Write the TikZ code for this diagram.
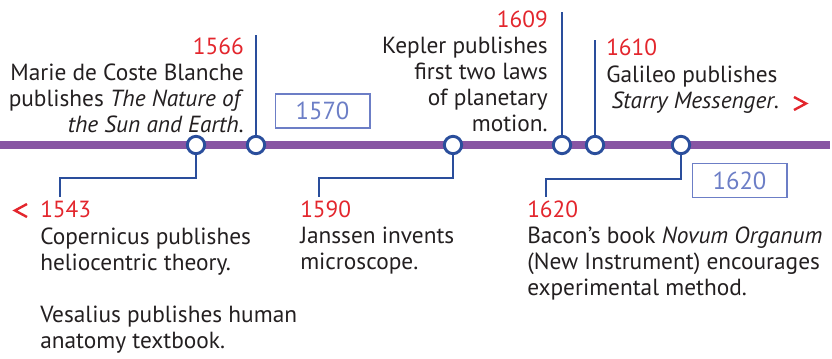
\documentclass[tikz,border=0pt]{standalone}
\usepackage{fontspec}
\setmainfont{PT Sans}
\definecolor{tlpurple}{HTML}{8855A3}
\definecolor{tlblue}{HTML}{2A4E9C}
\definecolor{tlred}{HTML}{E3262D}
\definecolor{tlbox}{HTML}{6C7EC6}
\definecolor{tltext}{HTML}{231F20}
\tikzset{
  yr/.style={inner sep=0pt,text=tlred,font=\fontsize{17.5}{19.5}\selectfont},
  desc/.style={inner sep=0pt,text=tltext,font=\fontsize{17.5}{19.5}\selectfont},
  dot/.style={circle,draw=tlblue,line width=2.2pt,fill=white,minimum size=13pt,inner sep=0pt},
  conn/.style={draw=tlblue,line width=2.2pt},
  yearbox/.style={draw=tlbox,line width=1pt,text=tlbox,minimum width=71pt,minimum height=25.5pt,inner sep=0pt,font=\fontsize{18.5}{22}\selectfont},
  chev/.style={draw=tlred,line width=1.8pt}
}
\begin{document}
\begin{tikzpicture}[x=0.75pt,y=-0.75pt]
\useasboundingbox (0,0) rectangle (832,358);
% timeline
\draw[tlpurple,line width=5.5pt] (0,145) -- (830,145);
% dots
\node[dot] (d1543) at (196,145) {};
\node[dot] (d1566) at (256,145) {};
\node[dot] (d1590) at (453,145) {};
\node[dot] (d1609) at (562,145) {};
\node[dot] (d1610) at (595,145) {};
\node[dot] (d1620) at (681,145) {};
% connector ends
\coordinate (t1566) at (256,35);
\coordinate (t1609) at (562,12);
\coordinate (t1610) at (595,40);
\coordinate (b1543) at (60,197);
\coordinate (b1590) at (319,197);
\coordinate (b1620) at (546,197);
\draw[conn] (t1566) -- (d1566);
\draw[conn] (t1609) -- (d1609);
\draw[conn] (t1610) -- (d1610);
\draw[conn] (d1543) |- (60,178) -- (b1543);
\draw[conn] (d1590) |- (319,178) -- (b1590);
\draw[conn] (d1620) |- (546,179) -- (b1620);
% boxes
\node[yearbox] (box1570) at (322.5,111) {1570};
\node[yearbox] (box1620) at (739.5,180.5) {1620};
% top texts (multi-line nodes anchored at the baseline of their last line)
\node[yr,anchor=base east] (y1566) at (244,54) {1566};
\node[desc,anchor=base east,align=right] (t1) at (244,132) {Marie de Coste Blanche\\publishes \textit{The Nature of}\\\textit{the Sun and Earth}.};
\node[yr,anchor=base east] (y1609) at (548,27) {1609};
\node[desc,anchor=base east,align=right] (t2) at (548,131) {Kepler publishes\\first two laws\\of planetary\\motion.};
\node[yr,anchor=base west] (y1610) at (606,55) {1610};
\node[desc,anchor=base west,align=left] (t3) at (606,108) {Galileo publishes\\\hspace*{4pt}\textit{Starry Messenger}.};
% bottom texts
\node[yr,anchor=base west] (y1543) at (40,217) {1543};
\node[desc,anchor=base west,align=left] (t4) at (40,348) {Copernicus publishes\\heliocentric theory.\\[19.5pt]Vesalius publishes human\\anatomy textbook.};
\node[yr,anchor=base west] (y1590) at (300,217) {1590};
\node[desc,anchor=base west,align=left] (t5) at (300,269) {Janssen invents\\microscope.};
\node[yr,anchor=base west] (y1620) at (527,217) {1620};
\node[desc,anchor=base west,align=left] (t6) at (527,295) {Bacon’s book \textit{Novum Organum}\\(New Instrument) encourages\\experimental method.};
% chevrons
\draw[chev] (794,97) -- (806,103.5) -- (794,110);
\draw[chev] (27,204) -- (15,210.5) -- (27,217);
\end{tikzpicture}
\end{document}
